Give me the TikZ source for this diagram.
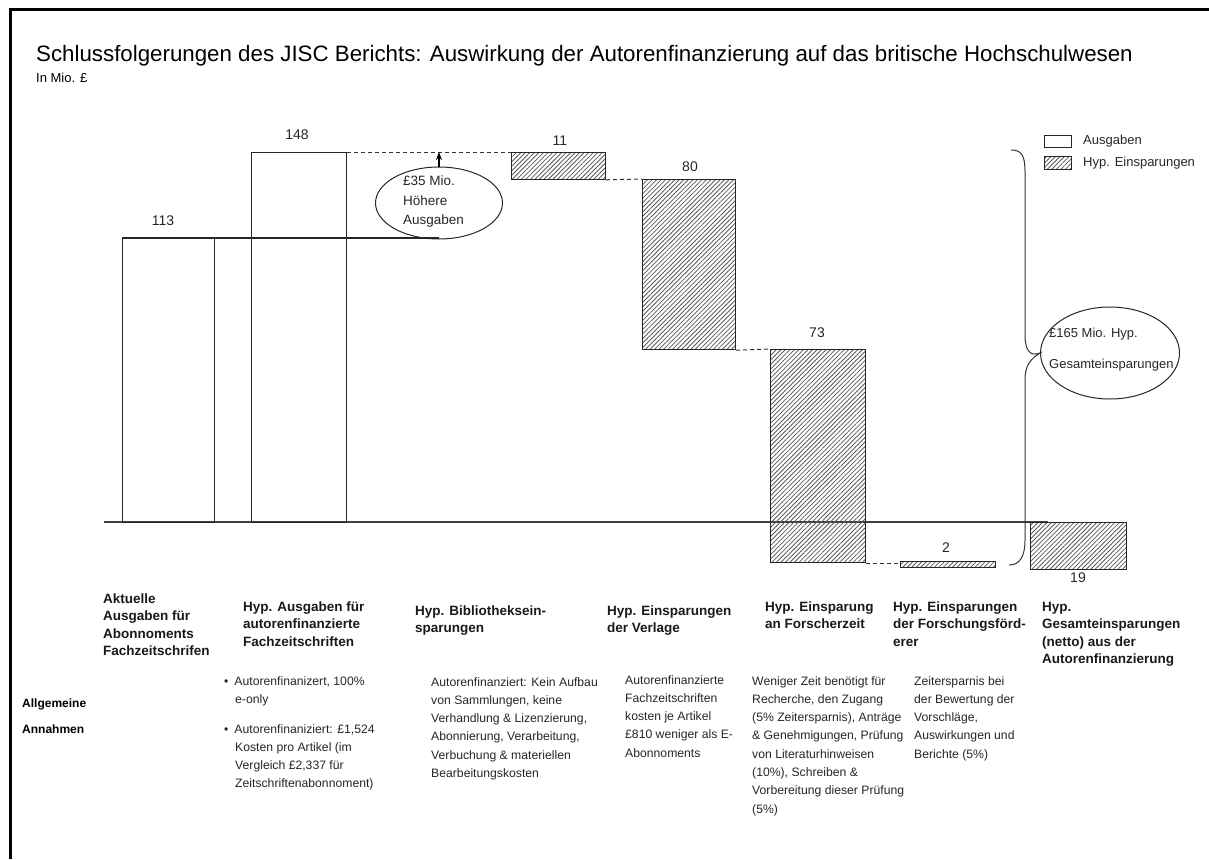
\documentclass[tikz,border=0pt]{standalone}
\usepackage{fontspec}
\setmainfont{Liberation Sans}
\usetikzlibrary{shapes.geometric,patterns.meta,arrows.meta}
\begin{document}
\begin{tikzpicture}[x=1pt,y=-1pt,
  bar/.style={draw=black!85,line width=1.2pt,inner sep=0pt,anchor=north west},
  hatch/.style={bar,pattern={Lines[angle=45,distance=3.2pt,line width=0.8pt]},pattern color=black!65},
  conn/.style={draw=black!80,line width=1pt,dash pattern=on 4pt off 3pt},
  val/.style={font=\fontsize{14}{16}\selectfont,inner sep=0pt,text=black!85},
  cat/.style={font=\bfseries\fontsize{13.5}{17.5}\selectfont,align=left,anchor=base west,inner sep=0pt,text=black!90},
  note/.style={font=\fontsize{12.2}{18.3}\selectfont,align=left,anchor=base west,inner sep=0pt,text=black!85},
  oval/.style={ellipse,draw=black!85,line width=1pt,inner sep=0pt},
]
\useasboundingbox (0,0) rectangle (1209,859);
\draw[line width=3pt] (10,859) -- (10,10) -- (1209,10);

% title
\node[anchor=base west,inner sep=0pt,font=\fontsize{22.3}{26}\selectfont] (title) at (36,62)
  {Schlussfolgerungen des JISC Berichts: Auswirkung der Autorenfinanzierung auf das britische Hochschulwesen};
\node[anchor=base west,inner sep=0pt,font=\fontsize{13}{15}\selectfont] (unit) at (36,82) {In Mio. £};

% axis
\coordinate (axL) at (104,522);
\coordinate (axR) at (1048,522);
\draw[line width=1.2pt,black!75] (axL) -- (axR);

% bars
\node[bar,minimum width=92,minimum height=284] (b1) at (122,238) {};
\node[bar,minimum width=95,minimum height=370] (b2) at (251,152) {};
\node[hatch,minimum width=94,minimum height=27] (b3) at (511,152) {};
\node[hatch,minimum width=93,minimum height=170] (b4) at (642,179) {};
\node[hatch,minimum width=95,minimum height=213] (b5) at (770,349) {};
\node[hatch,minimum width=95,minimum height=6] (b6) at (900,561) {};
\node[hatch,minimum width=96,minimum height=47] (b7) at (1030,522) {};
\draw[line width=2pt] (153,238) -- (b1.north east);

% values
\node[val] (v1) at (163,221) {113};
\node[val] (v2) at (297,135) {148};
\node[val] (v3) at (560,141) {11};
\node[val] (v4) at (690,167) {80};
\node[val] (v5) at (817,333) {73};
\node[val] (v6) at (946,548) {2};
\node[val] (v7) at (1078,578) {19};

% ellipse 1
\node[oval,minimum width=127,minimum height=72] (e1) at (439,203) {};
\node[anchor=west,inner sep=0pt,align=left,font=\fontsize{13.5}{19.5}\selectfont,text=black!85] (e1t) at (403,202)
  {£35 Mio.\\Höhere\\Ausgaben};

% connectors
\draw[line width=1.2pt,black!85] (b1.north west) -- (b1.north west -| e1.south);
\draw[conn] (b2.north east) -- (b3.north west);
\draw[conn] (b3.south east) -- (b4.north west);
\draw[conn] (b4.south east) -- (b5.north west);
\draw[conn] (b5.south east) -- (b5.south east -| b6.west);
\draw[line width=1.2pt,-{Stealth[length=8pt,width=6pt]}] (e1.north) -- (e1.north |- b2.north);

% legend
\node[bar,minimum width=27,minimum height=12] (lg1) at (1044,135) {};
\node[hatch,minimum width=27,minimum height=13] (lg2) at (1044,156) {};
\node[anchor=west,inner sep=0pt,font=\fontsize{13}{15}\selectfont,text=black!85] (lg1t) at (1083,141) {Ausgaben};
\node[anchor=west,inner sep=0pt,font=\fontsize{13}{15}\selectfont,text=black!85] (lg2t) at (1083,163) {Hyp. Einsparungen};

% ellipse 2 and brace
\node[oval,minimum width=139,minimum height=92] (e2) at (1110,353) {};
\node[anchor=west,inner sep=0pt,align=left,font=\fontsize{13}{31}\selectfont,text=black!85] (e2t) at (1049,350)
  {£165 Mio. Hyp.\\Gesamteinsparungen};
\coordinate (brT) at (1011,150);
\coordinate (brB) at (1009,565);
\draw[line width=1pt,black!80] (brT) .. controls (1022,150) and (1025,156) .. (1025,172)
  -- (1025,335) .. controls (1025,350) and (1030,357) .. (e2.west)
  .. controls (1030,359) and (1025,366) .. (1025,380)
  -- (1025,540) .. controls (1025,556) and (1020,565) .. (brB);

% category labels (anchor = baseline of last line)
\node[cat] (c1) at (103,655.5) {Aktuelle\\Ausgaben für\\Abonnoments\\Fachzeitschrifen};
\node[cat] (c2) at (243,646) {Hyp. Ausgaben für\\autorenfinanzierte\\Fachzeitschriften};
\node[cat] (c3) at (415,632.5) {Hyp. Bibliotheksein-\\sparungen};
\node[cat] (c4) at (607,632.5) {Hyp. Einsparungen\\der Verlage};
\node[cat] (c5) at (765,628.5) {Hyp. Einsparung\\an Forscherzeit};
\node[cat] (c6) at (893,646) {Hyp. Einsparungen\\der Forschungsförd-\\erer};
\node[cat] (c7) at (1042,663.5) {Hyp.\\Gesamteinsparungen\\(netto) aus der\\Autorenfinanzierung};

\node[anchor=base west,inner sep=0pt,font=\bfseries\fontsize{12}{14}\selectfont] (ga) at (22,707) {Allgemeine};
\node[anchor=base west,inner sep=0pt,font=\bfseries\fontsize{12}{14}\selectfont] (gb) at (22,733) {Annahmen};

% notes (anchor = baseline of last line)
\node[note] (n2a) at (224,703.3) {•\hspace{6pt}Autorenfinanizert, 100\%\\\hspace{11pt}e-only};
\node[note] (n2b) at (224,787.9) {•\hspace{6pt}Autorenfinaniziert: £1,524\\\hspace{11pt}Kosten  pro Artikel (im\\\hspace{11pt}Vergleich  £2,337 für\\\hspace{11pt}Zeitschriftenabonnoment)};
\node[note] (n3) at (431,777.5) {Autorenfinanziert: Kein Aufbau\\von Sammlungen, keine\\Verhandlung \& Lizenzierung,\\Abonnierung, Verarbeitung,\\Verbuchung \& materiellen\\Bearbeitungskosten};
\node[note] (n4) at (625,757.2) {Autorenfinanzierte\\Fachzeitschriften\\kosten je Artikel\\£810 weniger als E-\\Abonnoments};
\node[note] (n5) at (752,813.1) {Weniger Zeit benötigt für\\Recherche, den  Zugang\\(5\% Zeitersparnis), Anträge\\\& Genehmigungen, Prüfung\\von Literaturhinweisen\\(10\%), Schreiben \&\\Vorbereitung dieser Prüfung\\(5\%)};
\node[note] (n6) at (914,758.2) {Zeitersparnis bei\\der Bewertung der\\Vorschläge,\\Auswirkungen und\\Berichte (5\%)};
\end{tikzpicture}
\end{document}
